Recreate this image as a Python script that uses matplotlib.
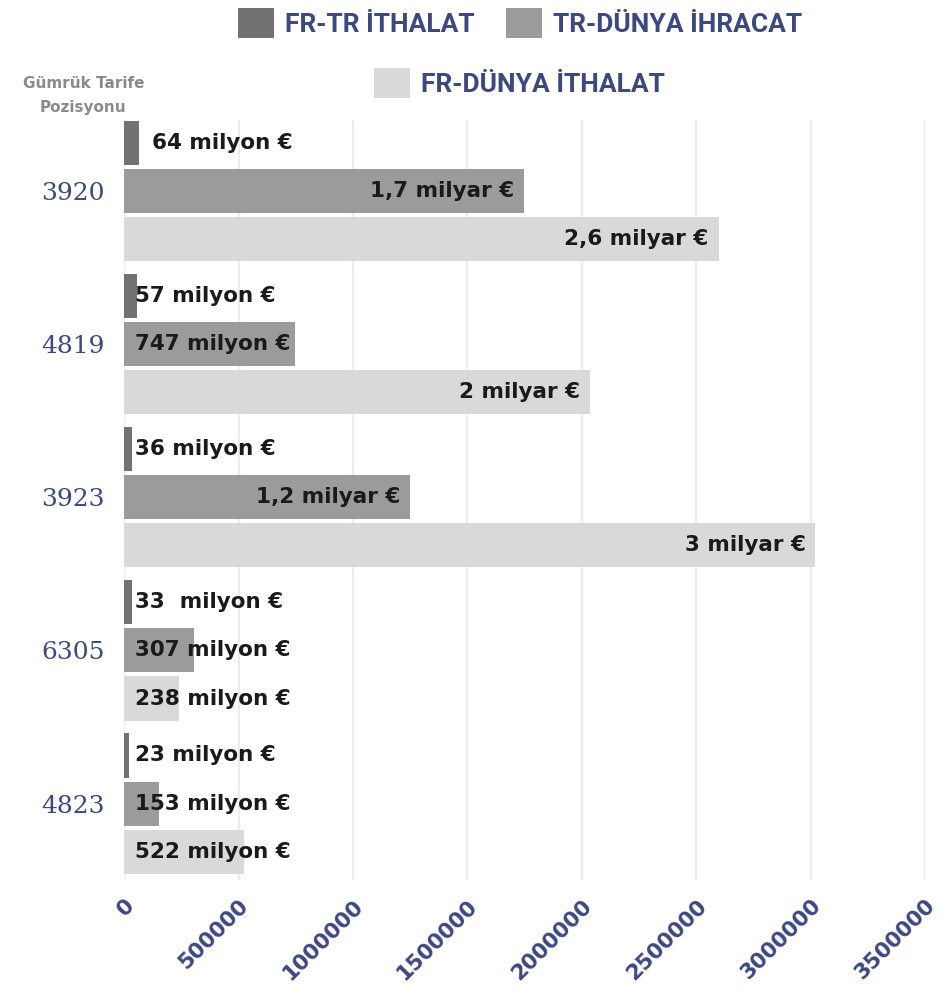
import matplotlib.pyplot as plt
import matplotlib.transforms as mtransforms
from matplotlib.patches import Patch

categories = ["3920", "4819", "3923", "6305", "4823"]
series_names = ["FR-TR İTHALAT", "TR-DÜNYA İHRACAT", "FR-DÜNYA İTHALAT"]

# values in thousand euro
fr_tr = [64000, 57000, 36000, 33000, 23000]
tr_world = [1748000, 747000, 1250000, 307000, 153000]
fr_world = [2597000, 2036000, 3020000, 238000, 522000]

lbl_fr_tr = ["64 milyon €", "57 milyon €", "36 milyon €", "33  milyon €", "23 milyon €"]
lbl_tr_world = ["1,7 milyar €", "747 milyon €", "1,2 milyar €", "307 milyon €", "153 milyon €"]
lbl_fr_world = ["2,6 milyar €", "2 milyar €", "3 milyar €", "238 milyon €", "522 milyon €"]

xticks = [0, 500000, 1000000, 1500000, 2000000, 2500000, 3000000, 3500000]

colors = ["#727272", "#9b9b9b", "#d9d9d9"]
navy = "#3c4880"

fig = plt.figure(figsize=(9.47, 9.89), dpi=100)
ax = fig.add_axes([0.131, 0.110, 0.846, 0.769])

pitch = 0.314
h = 0.288
series = [fr_tr, tr_world, fr_world]
labels = [lbl_fr_tr, lbl_tr_world, lbl_fr_world]
ys = list(range(len(categories)))

for k in range(3):
    pos = [y + (k - 1) * pitch for y in ys]
    ax.barh(pos, series[k], height=h, color=colors[k], zorder=2)
    for i in range(len(categories)):
        v = series[k][i]
        if v >= 1000000:
            ax.annotate(labels[k][i], (v, pos[i]), xytext=(-7, 0), textcoords="offset points",
                        ha="right", va="center", fontsize=15.5, fontweight="bold",
                        family="DejaVu Sans", color="#1a1a1a", zorder=3)
        else:
            off = 20 if (k == 0 and i == 0) else 8
            ax.annotate(labels[k][i], (0, pos[i]), xytext=(off, 0), textcoords="offset points",
                        ha="left", va="center", fontsize=15.5, fontweight="bold",
                        family="DejaVu Sans", color="#1a1a1a", zorder=3)

ax.set_ylim(4.5, -0.464)
ax.set_xlim(0, 3500000)
ax.set_yticks(ys)
ax.set_yticklabels(categories, family="DejaVu Serif", fontsize=18, color=navy)
ax.set_xticks(xticks)
ax.set_xticklabels([str(t) for t in xticks], rotation=45, ha="right", rotation_mode="anchor",
                   fontsize=15.5, fontweight="bold", color=navy, family="DejaVu Sans")
shift = mtransforms.ScaledTranslation(10 / 72, 0, fig.dpi_scale_trans)
for lab in ax.get_xticklabels():
    lab.set_transform(lab.get_transform() + shift)
ax.tick_params(axis="y", length=0, pad=14)
ax.tick_params(axis="x", length=0, pad=11)
for s in ax.spines.values():
    s.set_visible(False)
ax.grid(axis="x", color="#ebebf1", linewidth=1.6, zorder=0)
ax.set_axisbelow(True)

handles = [Patch(facecolor=c) for c in colors]
legend_prop = {"family": "Roboto", "size": 19, "weight": "bold"}
leg1 = fig.legend(handles[:2], series_names[:2], loc="center", bbox_to_anchor=(0.549, 0.977), ncol=2,
                  frameon=False, handlelength=1.36, handleheight=1.36, columnspacing=1.2,
                  handletextpad=0.42, prop=legend_prop)
for t in leg1.get_texts():
    t.set_color(navy)
leg2 = fig.legend(handles[2:], series_names[2:], loc="center", bbox_to_anchor=(0.549, 0.916),
                  frameon=False, handlelength=1.36, handleheight=1.36, handletextpad=0.42,
                  prop=legend_prop)
for t in leg2.get_texts():
    t.set_color(navy)

fig.text(0.088, 0.9035, "Gümrük Tarife\nPozisyonu", ha="center", va="center", fontsize=11,
         fontweight="bold", color="#8a8a8a", linespacing=1.8, family="DejaVu Sans")

fig.savefig("out.png", dpi=100)
